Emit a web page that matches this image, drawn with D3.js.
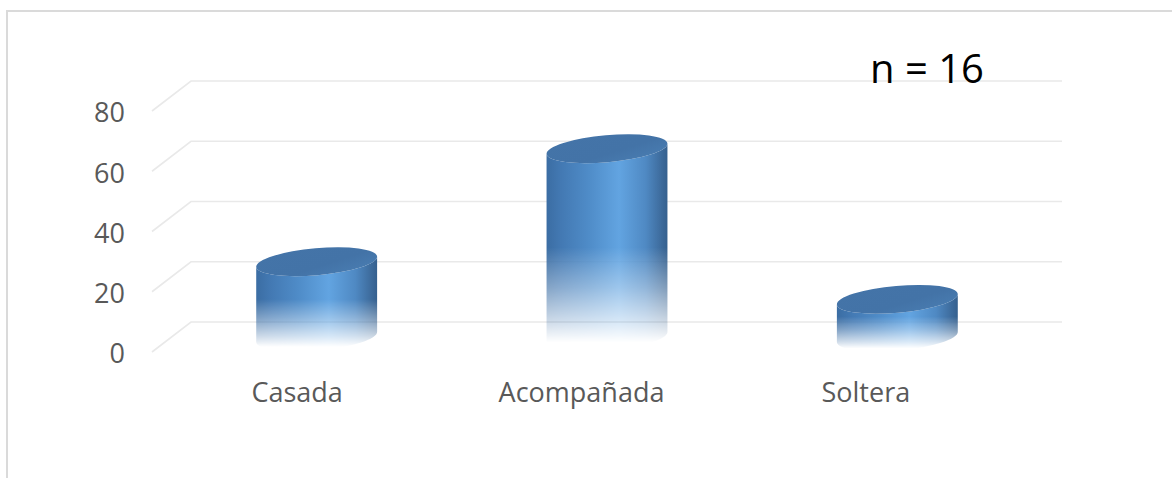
<!DOCTYPE html>
<html>
<head>
<meta charset="utf-8">
<script src="https://cdn.jsdelivr.net/npm/d3@7"></script>
<style>
  html, body { margin: 0; padding: 0; background: #ffffff; }
  svg { display: block; }
  text { font-family: "Open Sans", "Liberation Sans", sans-serif; }
</style>
</head>
<body>
<div id="chart"></div>
<script>
// Estado civil (%)
const categories = ["Casada", "Acompañada", "Soltera"];
const values = [25, 62.5, 12.5];
const yTicks = [0, 20, 40, 60, 80];
const sampleNote = "n = 16";

const width = 1172, height = 478;

// 3D plot geometry: back wall and depth offset toward the viewer
const back = { left: 191, right: 1062, top: 81, bottom: 322 };
const depth = { dx: -39, dy: 30 };
const mid = { dx: depth.dx / 2, dy: depth.dy / 2 };
const tilt = -5;         // rotation of the cylinder caps (degrees)

const svg = d3.select("#chart").append("svg")
  .attr("width", width).attr("height", height);

const defs = svg.append("defs");

// Chart area frame
svg.append("path")
  .attr("d", `M7,${height} V11 H${width}`)
  .attr("fill", "none")
  .attr("stroke", "#dadada")
  .attr("stroke-width", 2);

const y = d3.scaleLinear().domain([0, 80]).range([back.bottom, back.top]);
const x = d3.scaleBand().domain(categories).range([back.left, back.right]);
const xLabel = d3.scaleBand().domain(categories).range([155, 1008]);

// Gridlines: back wall + floor diagonal toward the front plane
const grid = svg.append("g").attr("stroke", "#e9e9e9").attr("stroke-width", 1.6).attr("fill", "none");
grid.selectAll("path").data(yTicks).join("path")
  .attr("d", d => `M${back.left + depth.dx},${y(d) + depth.dy} L${back.left},${y(d)} H${back.right}`);

// Y tick labels on the front plane
svg.append("g").selectAll("text").data(yTicks).join("text")
  .attr("x", 125)
  .attr("y", d => y(d) + depth.dy + 2)
  .attr("dy", "0.35em")
  .attr("text-anchor", "end")
  .attr("font-size", 27)
  .attr("fill", "#595959")
  .text(d => d);

// Category labels
svg.append("g").selectAll("text").data(categories).join("text")
  .attr("x", d => xLabel(d) + xLabel.bandwidth() / 2)
  .attr("y", 402)
  .attr("text-anchor", "middle")
  .attr("font-size", 27)
  .attr("fill", "#595959")
  .text(d => d);

// Cylinder shading
const side = defs.append("linearGradient").attr("id", "cylSide")
  .attr("x1", 0).attr("y1", 0).attr("x2", 1).attr("y2", 0);
[[0, "#3b6da3"], [0.12, "#4379b3"], [0.35, "#4f8cc8"], [0.6, "#62a4e1"], [0.82, "#4f89c3"], [0.95, "#3d6b9c"], [1, "#35608e"]]
  .forEach(([o, c]) => side.append("stop").attr("offset", o).attr("stop-color", c));

const cap = defs.append("linearGradient").attr("id", "cylTop")
  .attr("x1", 0).attr("y1", 0).attr("x2", 1).attr("y2", 1);
[[0, "#4474a8"], [0.6, "#4373a7"], [1, "#4a7eb3"]]
  .forEach(([o, c]) => cap.append("stop").attr("offset", o).attr("stop-color", c));

const fade = defs.append("linearGradient").attr("id", "fadeGrad")
  .attr("x1", 0).attr("y1", 0).attr("x2", 0).attr("y2", 1);
[[0, 1], [0.54, 1], [0.72, 0.62], [0.87, 0.25], [0.96, 0]]
  .forEach(([o, a]) => fade.append("stop").attr("offset", o).attr("stop-color", "#fff").attr("stop-opacity", a));

const rad = tilt * Math.PI / 180;
const cyl = svg.append("g");

categories.forEach((cat, i) => {
  const cx = x(cat) + x.bandwidth() / 2 + mid.dx;
  const rx = x.bandwidth() * 0.209;
  const ry = 13.5;
  const topY = y(values[i]) + mid.dy;
  const botY = y(0) + mid.dy;
  const ex = rx * Math.cos(rad), ey = rx * Math.sin(rad);

  const maskId = `fade-${i}`;
  defs.append("mask").attr("id", maskId)
    .append("rect")
    .attr("x", cx - rx - 6).attr("y", topY - ry - 10)
    .attr("width", 2 * rx + 12).attr("height", (botY + ry + 1) - (topY - ry - 10))
    .attr("fill", "url(#fadeGrad)");

  const g = cyl.append("g").attr("mask", `url(#${maskId})`);

  g.append("path")
    .attr("d", `M${cx - ex},${topY - ey} L${cx - ex},${botY - ey}` +
               ` A${rx},${ry} ${tilt} 0 0 ${cx + ex},${botY + ey}` +
               ` L${cx + ex},${topY + ey}` +
               ` A${rx},${ry} ${tilt} 0 1 ${cx - ex},${topY - ey} Z`)
    .attr("fill", "url(#cylSide)");

  g.append("ellipse")
    .attr("cx", cx).attr("cy", topY)
    .attr("rx", rx).attr("ry", ry)
    .attr("transform", `rotate(${tilt},${cx},${topY})`)
    .attr("fill", "url(#cylTop)");
});

// Sample size note
svg.append("text")
  .attr("x", 927).attr("y", 83)
  .attr("text-anchor", "middle")
  .attr("font-size", 40)
  .attr("fill", "#000")
  .text(sampleNote);
</script>
</body>
</html>
